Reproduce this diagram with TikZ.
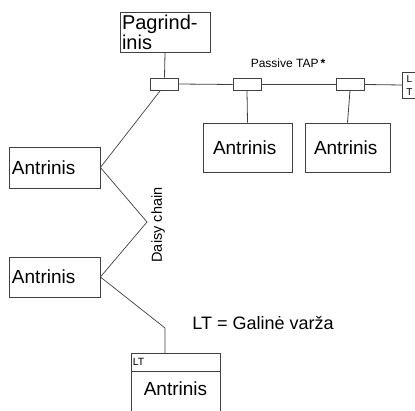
\documentclass[tikz,border=0pt]{standalone}
\usepackage{fontspec}
\setmainfont{Liberation Sans}
\usepackage{tikz}

\begin{document}
\begin{tikzpicture}[x=1pt,y=-1pt,line width=0.8pt,
		box/.style={draw=black!75,rectangle,inner sep=0pt,font=\fontsize{19}{20}\selectfont},
		tap/.style={draw=black!75,rectangle,inner sep=0pt,minimum width=28pt,minimum height=12pt},
		wire/.style={draw=black!75}]
			\useasboundingbox (0,0) rectangle (415,411);
			% master and the passive taps
			\node[box,minimum width=90pt,minimum height=40pt,text width=86pt,align=left,font=\fontsize{20}{20}\selectfont] (master) at (165,32) {Pagrind-\\inis};
			\node[tap] (tapA) at (164.5,84) {};
			\node[tap] (tapB) at (247,84.5) {};
			\node[tap] (tapC) at (350,84.5) {};
			\draw[wire] (402.5,72) rectangle (417,98);
			\coordinate (ltR) at (402.5,85);
			\node[font=\fontsize{10}{10}\selectfont] (ltL) at (409.5,79) {L};
			\node[font=\fontsize{10}{10}\selectfont] (ltT) at (409.5,92) {T};
			\node[box,minimum width=89pt,minimum height=49pt,text width=69pt,align=left] (slaveA) at (247.5,147.5) {Antrinis};
			\node[box,minimum width=85pt,minimum height=49pt,text width=67pt,align=left] (slaveB) at (347.5,147.5) {Antrinis};
			\node[font=\fontsize{12}{12}\selectfont] (taplbl) at (288,63) {Passive TAP\,\textbf{*}};
			\draw[wire] (master.south) -- (tapA.north);
			\draw[wire] (tapA.east) -- (tapB.west);
			\draw[wire] (tapB.east) -- (tapC.west);
			\draw[wire] (tapC.east) -- (ltR);
			\draw[wire] (tapB.south) -- (slaveA.north);
			\draw[wire] (tapC.south) -- (slaveB.north);
			% daisy chain
			\node[box,minimum width=91pt,minimum height=41pt,text width=85pt,align=left] (slaveL) at (54.5,167.5) {Antrinis};
			\node[box,minimum width=91pt,minimum height=40pt,text width=85pt,align=left] (slaveM) at (54.5,277) {Antrinis};
			\coordinate (tapfoot) at (160,91);
			\coordinate (bendA) at (147,222);
			\coordinate (bendB) at (165,328);
			\coordinate (endtop) at (165,353);
			\draw[wire,line width=0.7pt] (tapfoot) -- (slaveL.east) -- (bendA) -- (slaveM.east) -- (bendB) -- (endtop);
			\node[rotate=90,font=\fontsize{14.5}{14.5}\selectfont] (daisy) at (158,225) {Daisy chain};
			% last slave with terminator
			\draw[wire] (131,412) |- (220,353) -- (220,412);
			\draw[wire] (131,371) -- (220,371);
			\node[anchor=west,inner sep=1pt,font=\fontsize{10.5}{10.5}\selectfont] (ltbox) at (131.5,362) {LT};
			\node[font=\fontsize{19}{20}\selectfont] (slaveN) at (175.5,389) {Antrinis};
			\node[anchor=west,font=\fontsize{18}{18}\selectfont,inner sep=0pt] (legend) at (192,323) {LT = Galinė varža};
		\end{tikzpicture}
\end{document}
